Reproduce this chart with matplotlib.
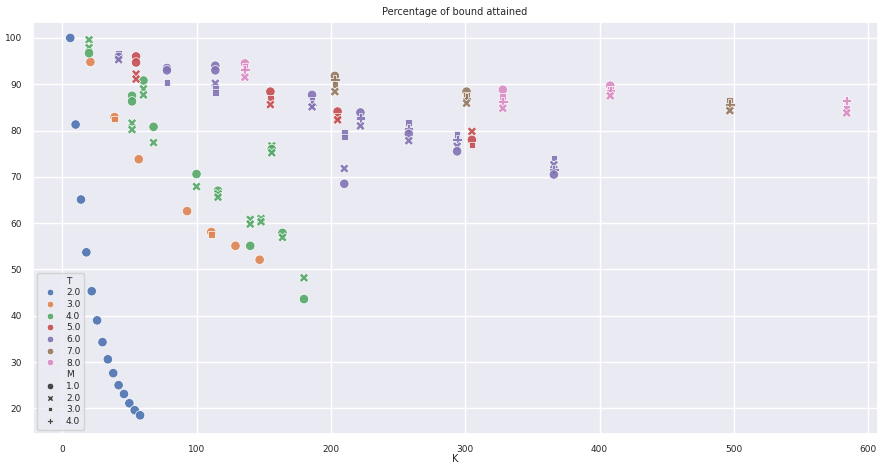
import pandas as pd
import seaborn as sns
import matplotlib.pyplot as plt

# T = 2.0
t2_K = [6, 10, 14, 18, 22, 26, 30, 34, 38, 42, 46, 50, 54, 58]
t2_pct = [100.0, 81.3, 65.1, 53.7, 45.3, 39.0, 34.3, 30.6, 27.6, 25.0, 23.1, 21.1, 19.6, 18.5]
t2_M = [1.0] * 14

# T = 3.0
t3_K = [21, 39, 39, 57, 93, 111, 111, 129, 147]
t3_pct = [94.8, 82.9, 82.5, 73.8, 62.6, 58.1, 57.6, 55.1, 52.1]
t3_M = [1.0, 1.0, 3.0, 1.0, 1.0, 1.0, 3.0, 1.0, 1.0]

# T = 4.0
t4_K = [20, 20, 20, 52, 52, 52, 52, 60.5, 60.5, 60.5, 68, 68, 100, 100,
        116, 116, 116, 140, 140, 140, 148, 148, 156, 156, 156, 164, 164, 180, 180]
t4_pct = [99.6, 97.9, 96.7, 87.5, 86.3, 81.6, 80.2, 90.8, 89.0, 87.7, 80.8, 77.4, 70.6, 67.9,
          67.0, 66.3, 65.6, 60.8, 59.8, 55.1, 61.0, 60.3, 76.7, 76.0, 75.2, 57.9, 56.9, 48.2, 43.6]
t4_M = [2.0, 2.0, 1.0, 1.0, 1.0, 2.0, 2.0, 1.0, 2.0, 2.0, 1.0, 2.0, 1.0, 2.0,
        1.0, 2.0, 2.0, 2.0, 2.0, 1.0, 2.0, 2.0, 2.0, 1.0, 2.0, 1.0, 2.0, 2.0, 1.0]

# T = 5.0
t5_K = [55, 55, 55, 55, 155, 155, 155, 205, 205, 205, 305, 305, 305]
t5_pct = [96.0, 94.7, 92.2, 91.1, 88.4, 87.0, 85.6, 84.1, 83.0, 82.3, 79.8, 78.0, 76.9]
t5_M = [1.0, 1.0, 2.0, 2.0, 1.0, 3.0, 2.0, 1.0, 3.0, 2.0, 2.0, 1.0, 3.0]

# T = 6.0
t6_K = [42, 42, 42, 78, 78, 78, 114, 114, 114, 114, 114, 186, 186, 186, 186,
        210, 210, 210, 210, 222, 222, 222, 258, 258, 258, 258, 294, 294, 294, 294,
        366, 366, 366, 366]
t6_pct = [96.7, 95.9, 95.3, 93.5, 93.0, 90.4, 94.0, 93.0, 90.2, 89.2, 88.2, 87.7, 86.6, 85.6, 85.1,
          79.6, 78.6, 71.8, 68.5, 83.9, 82.7, 81.0, 81.8, 80.4, 79.3, 77.8, 79.1, 78.0, 76.6, 75.5,
          74.1, 72.6, 71.6, 70.5]
t6_M = [3.0, 1.0, 2.0, 1.0, 1.0, 3.0, 1.0, 1.0, 2.0, 3.0, 3.0, 1.0, 3.0, 4.0, 2.0,
        3.0, 3.0, 2.0, 1.0, 1.0, 4.0, 2.0, 3.0, 4.0, 1.0, 2.0, 3.0, 4.0, 2.0, 1.0,
        3.0, 2.0, 4.0, 1.0]

# T = 7.0
t7_K = [203, 203, 203, 203, 301, 301, 301, 301, 497, 497, 497]
t7_pct = [91.8, 91.0, 89.9, 88.4, 88.4, 87.6, 87.0, 85.9, 86.6, 85.7, 84.3]
t7_M = [1.0, 4.0, 3.0, 2.0, 1.0, 3.0, 4.0, 2.0, 3.0, 4.0, 2.0]

# T = 8.0
t8_K = [136, 136, 136, 136, 328, 328, 328, 328, 408, 408, 408, 408, 584, 584, 584]
t8_pct = [94.5, 93.8, 93.1, 91.5, 88.8, 87.3, 86.3, 84.8, 89.7, 89.0, 88.6, 87.5, 86.5, 84.9, 83.8]
t8_M = [1.0, 3.0, 4.0, 2.0, 1.0, 3.0, 4.0, 2.0, 1.0, 3.0, 4.0, 2.0, 4.0, 3.0, 2.0]

groups = [
    (2.0, t2_K, t2_pct, t2_M),
    (3.0, t3_K, t3_pct, t3_M),
    (4.0, t4_K, t4_pct, t4_M),
    (5.0, t5_K, t5_pct, t5_M),
    (6.0, t6_K, t6_pct, t6_M),
    (7.0, t7_K, t7_pct, t7_M),
    (8.0, t8_K, t8_pct, t8_M),
]

frames = []
for t, ks, ps, ms in groups:
    frames.append(pd.DataFrame({"K": ks, "pct": ps, "T": t, "M": ms}))
df = pd.concat(frames, ignore_index=True)

sns.set_theme(style="darkgrid")
plt.rcParams["font.family"] = ["DejaVu Sans"]

fig = plt.figure(figsize=(8.82, 4.62), dpi=100)
ax = fig.add_axes([0.037, 0.06, 0.958, 0.892])

sns.scatterplot(data=df, x="K", y="pct", hue="T", style="M",
                palette="deep", s=46, alpha=0.9, ax=ax, legend="full")

ax.set_title("Percentage of bound attained", fontsize=7, pad=5)
ax.set_xlabel("K", fontsize=7, labelpad=0)
ax.set_ylabel("")
ax.tick_params(labelsize=6.5, pad=1.5)
ax.set_xlim(-22, 607)
ax.set_ylim(14.4, 103.4)
ax.set_xticks([0, 100, 200, 300, 400, 500, 600])
ax.set_yticks([20, 30, 40, 50, 60, 70, 80, 90, 100])

# relabel legend entries as floats
handles, labels = ax.get_legend_handles_labels()
new_labels = []
for lab in labels:
    try:
        new_labels.append(f"{float(lab):.1f}")
    except ValueError:
        new_labels.append(lab)
ax.legend(handles, new_labels, loc="lower left", fontsize=6.5,
          markerscale=0.7, handletextpad=0.8, labelspacing=0.3,
          borderpad=0.4, frameon=True)

fig.savefig("out.png", dpi=100)
